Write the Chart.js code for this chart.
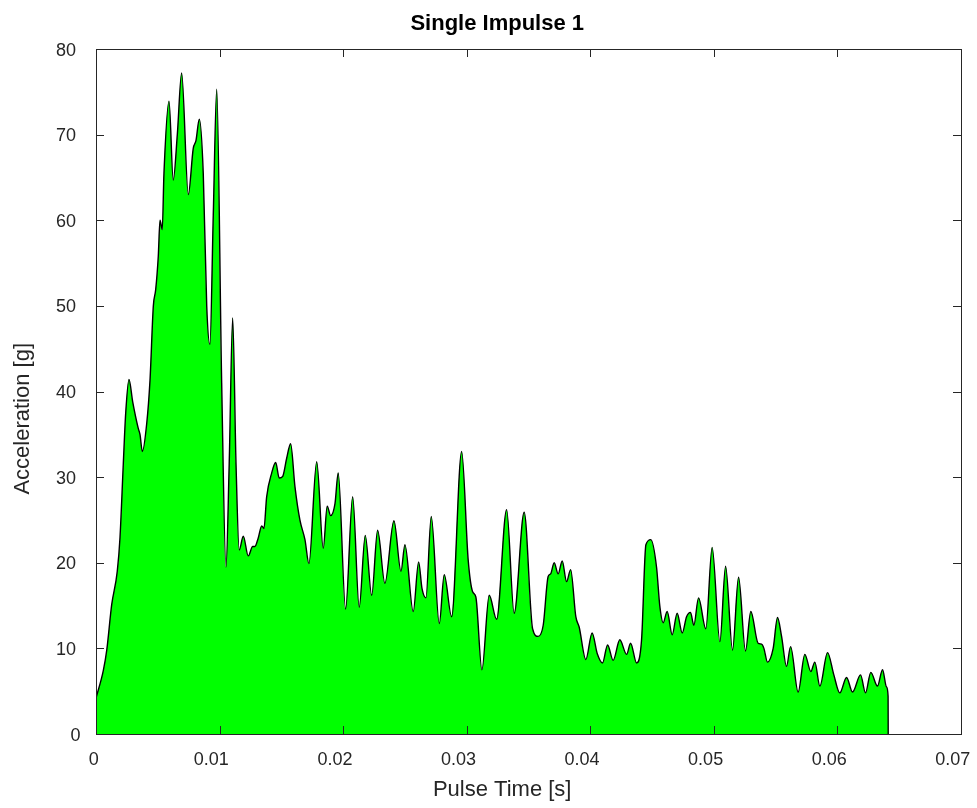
<!DOCTYPE html>
<html>
<head>
<meta charset="utf-8">
<title>Single Impulse 1</title>
<script src="https://cdn.jsdelivr.net/npm/chart.js@4.4.1/dist/chart.umd.min.js"></script>
<style>
  html, body { margin: 0; padding: 0; background: #fff; }
  canvas { display: block; }
</style>
</head>
<body>
<canvas id="chart" width="977" height="808"></canvas>
<script>
// pulse time [s] and acceleration [g]
const pulseTime = [
  0, 0.00059, 0.00087, 0.00127, 0.00172, 0.00194, 0.00221, 0.00240, 0.00267, 0.00297,
  0.00342, 0.00356, 0.00375, 0.00410, 0.00437, 0.00464, 0.00483, 0.00504, 0.00518, 0.00536,
  0.00550, 0.00591, 0.00625, 0.00658, 0.00693, 0.00747, 0.00787, 0.00809, 0.00836, 0.00868,
  0.00896, 0.00922, 0.00949, 0.00977, 0.01017, 0.01052, 0.01078, 0.01106, 0.01133, 0.01159,
  0.01192, 0.01232, 0.01268, 0.01286, 0.01313, 0.01341, 0.01359, 0.01381, 0.01422, 0.01454,
  0.01483, 0.01511, 0.01543, 0.01575, 0.01610, 0.01650, 0.01691, 0.01723, 0.01786, 0.01839,
  0.01871, 0.01899, 0.01934, 0.01960, 0.02020, 0.02077, 0.02130, 0.02179, 0.02231, 0.02279,
  0.02338, 0.02411, 0.02468, 0.02500, 0.02567, 0.02611, 0.02638, 0.02670, 0.02713, 0.02778,
  0.02818, 0.02878, 0.02959, 0.03012, 0.03048, 0.03074, 0.03123, 0.03182, 0.03242, 0.03323,
  0.03384, 0.03465, 0.03533, 0.03578, 0.03619, 0.03659, 0.03679, 0.03708, 0.03740, 0.03773,
  0.03808, 0.03841, 0.03883, 0.03910, 0.03964, 0.04015, 0.04056, 0.04099, 0.04140, 0.04185,
  0.04239, 0.04294, 0.04326, 0.04375, 0.04415, 0.04450, 0.04490, 0.04536, 0.04563, 0.04590,
  0.04622, 0.04663, 0.04703, 0.04744, 0.04779, 0.04811, 0.04838, 0.04876, 0.04935, 0.04986,
  0.05049, 0.05095, 0.05151, 0.05200, 0.05256, 0.05299, 0.05358, 0.05386, 0.05405, 0.05434,
  0.05480, 0.05515, 0.05548, 0.05588, 0.05621, 0.05682, 0.05736, 0.05785, 0.05817, 0.05858,
  0.05920, 0.05971, 0.06019, 0.06074, 0.06122, 0.06187, 0.06227, 0.06270, 0.06324, 0.06365,
  0.06397, 0.06410, 0.06411
];
const acceleration = [
  4.2, 7.4, 9.8, 15.1, 19, 22.9, 31.6, 37.4, 41.4, 38.8,
  35.7, 35, 33, 36.2, 41.3, 50, 51.9, 55.8, 60, 58.9,
  65.5, 73.9, 64.7, 70, 77.2, 63, 68.4, 69.3, 71.8, 65.5,
  50, 45.5, 60.6, 75.3, 41, 19.5, 31.6, 48.6, 31.6, 21.5,
  23.1, 20.8, 21.9, 21.9, 22.9, 24.3, 24, 27.7, 30.5, 31.7,
  29.9, 30.1, 32.2, 33.9, 28.9, 25, 22.7, 19.9, 31.8, 21.7,
  26.6, 25.5, 26.9, 30.5, 14.6, 27.7, 14.8, 23.2, 16.2, 23.8,
  17.6, 24.9, 19, 22.1, 14.3, 20.1, 17, 15.9, 25.4, 12.9,
  18.6, 13.7, 33, 20.3, 16.6, 16, 7.5, 16.2, 13.4, 26.2,
  14.1, 25.9, 12.3, 11.4, 12.7, 18.4, 18.7, 20, 18.7, 20.2,
  17.8, 19.2, 13.7, 12.5, 8.7, 11.8, 9.4, 8.3, 10.4, 8.6,
  11, 9.3, 10.6, 8.3, 11, 22.1, 22.7, 19.5, 14.9, 13,
  14.3, 11.6, 14.1, 11.8, 13.7, 14.2, 12.7, 15.9, 12.3, 21.8,
  10.8, 19.6, 9.8, 18.3, 9.7, 14.3, 10.6, 10.5, 10, 8.4,
  10, 13.6, 11.4, 7.9, 10.2, 4.9, 9.3, 7.3, 8.4, 5.6,
  9.5, 6.9, 4.8, 6.6, 4.9, 6.9, 4.8, 7.2, 5.6, 7.5,
  5.5, 4.4, 0
];

const xTickValues = [0, 0.01, 0.02, 0.03, 0.04, 0.05, 0.06, 0.07];
const xTickLabels = ['0', '0.01', '0.02', '0.03', '0.04', '0.05', '0.06', '0.07'];
const yTickValues = [0, 10, 20, 30, 40, 50, 60, 70, 80];
const yTickLabels = ['0', '10', '20', '30', '40', '50', '60', '70', '80'];

const FONT = "'Liberation Sans', Arial, Helvetica, sans-serif";
const AXIS_COLOR = '#262626';
const TICK_LEN = 8;

// MATLAB-like box: frame on four sides, inward ticks, and the texts.
// The reference texts sit left-anchored where a wider centred string
// would start, so they are placed the same way here.
const matlabBox = {
  id: 'matlabBox',
  afterDatasetsDraw(chart) {
    const { ctx, chartArea: a, scales: { x, y } } = chart;
    ctx.save();
    ctx.strokeStyle = AXIS_COLOR;
    ctx.lineWidth = 1;
    ctx.beginPath();
    x.ticks.forEach(t => {
      const px = Math.round(x.getPixelForValue(t.value)) + 0.5;
      ctx.moveTo(px, a.bottom);
      ctx.lineTo(px, a.bottom - TICK_LEN);
      ctx.moveTo(px, a.top);
      ctx.lineTo(px, a.top + TICK_LEN);
    });
    y.ticks.forEach(t => {
      const py = Math.round(y.getPixelForValue(t.value)) + 0.5;
      ctx.moveTo(a.left, py);
      ctx.lineTo(a.left + TICK_LEN, py);
      ctx.moveTo(a.right, py);
      ctx.lineTo(a.right - TICK_LEN, py);
    });
    ctx.stroke();
    ctx.strokeRect(Math.round(a.left) + 0.5, Math.round(a.top) + 0.5,
      Math.round(a.right - a.left), Math.round(a.bottom - a.top));

    ctx.textAlign = 'left';
    ctx.textBaseline = 'alphabetic';
    ctx.fillStyle = AXIS_COLOR;

    // tick labels
    ctx.font = '18px ' + FONT;
    x.ticks.forEach((t, i) => {
      const label = xTickLabels[i];
      const w = ctx.measureText(label).width;
      ctx.fillText(label, x.getPixelForValue(t.value) - 0.735 * w, a.bottom + 30.5);
    });
    y.ticks.forEach((t, i) => {
      const label = yTickLabels[i];
      const w = ctx.measureText(label).width;
      ctx.fillText(label, a.left - 11 - 1.45 * w, y.getPixelForValue(t.value) + 6.5);
    });

    const midX = (a.left + a.right) / 2;
    const midY = (a.top + a.bottom) / 2;

    // title
    ctx.fillStyle = '#000';
    ctx.font = 'bold 22px ' + FONT;
    let w = ctx.measureText('Single Impulse 1').width;
    ctx.fillText('Single Impulse 1', midX - 0.68 * w, 30);

    // x axis title
    ctx.fillStyle = AXIS_COLOR;
    ctx.font = '22px ' + FONT;
    w = ctx.measureText('Pulse Time [s]').width;
    ctx.fillText('Pulse Time [s]', midX - 0.69 * w, a.bottom + 61.5);

    // y axis title
    w = ctx.measureText('Acceleration [g]').width;
    ctx.translate(28.5, midY + 0.68 * w);
    ctx.rotate(-Math.PI / 2);
    ctx.fillText('Acceleration [g]', 0, 0);
    ctx.restore();
  }
};

const points = pulseTime.map((t, i) => ({ x: t, y: acceleration[i] }));

new Chart(document.getElementById('chart'), {
  type: 'line',
  data: {
    datasets: [{
      label: 'Single Impulse 1',
      data: points,
      borderColor: '#000000',
      borderWidth: 1.4,
      backgroundColor: '#00ff00',
      fill: 'origin',
      pointRadius: 0,
      cubicInterpolationMode: 'monotone'
    }]
  },
  options: {
    responsive: false,
    animation: false,
    layout: { padding: { top: 49, right: 16, left: 0, bottom: 0 } },
    plugins: {
      legend: { display: false },
      title: { display: false },
      tooltip: { enabled: false }
    },
    scales: {
      x: {
        type: 'linear',
        min: 0,
        max: 0.07,
        grid: { display: false },
        border: { display: false },
        afterBuildTicks: s => { s.ticks = xTickValues.map(v => ({ value: v })); },
        afterFit: s => { s.height = 74; s.paddingLeft = 0; s.paddingRight = 0; },
        ticks: { display: false }
      },
      y: {
        min: 0,
        max: 80,
        grid: { display: false },
        border: { display: false },
        afterBuildTicks: s => { s.ticks = yTickValues.map(v => ({ value: v })); },
        afterFit: s => { s.width = 96; s.paddingTop = 0; s.paddingBottom = 0; },
        ticks: { display: false }
      }
    }
  },
  plugins: [matlabBox]
});
</script>
</body>
</html>
